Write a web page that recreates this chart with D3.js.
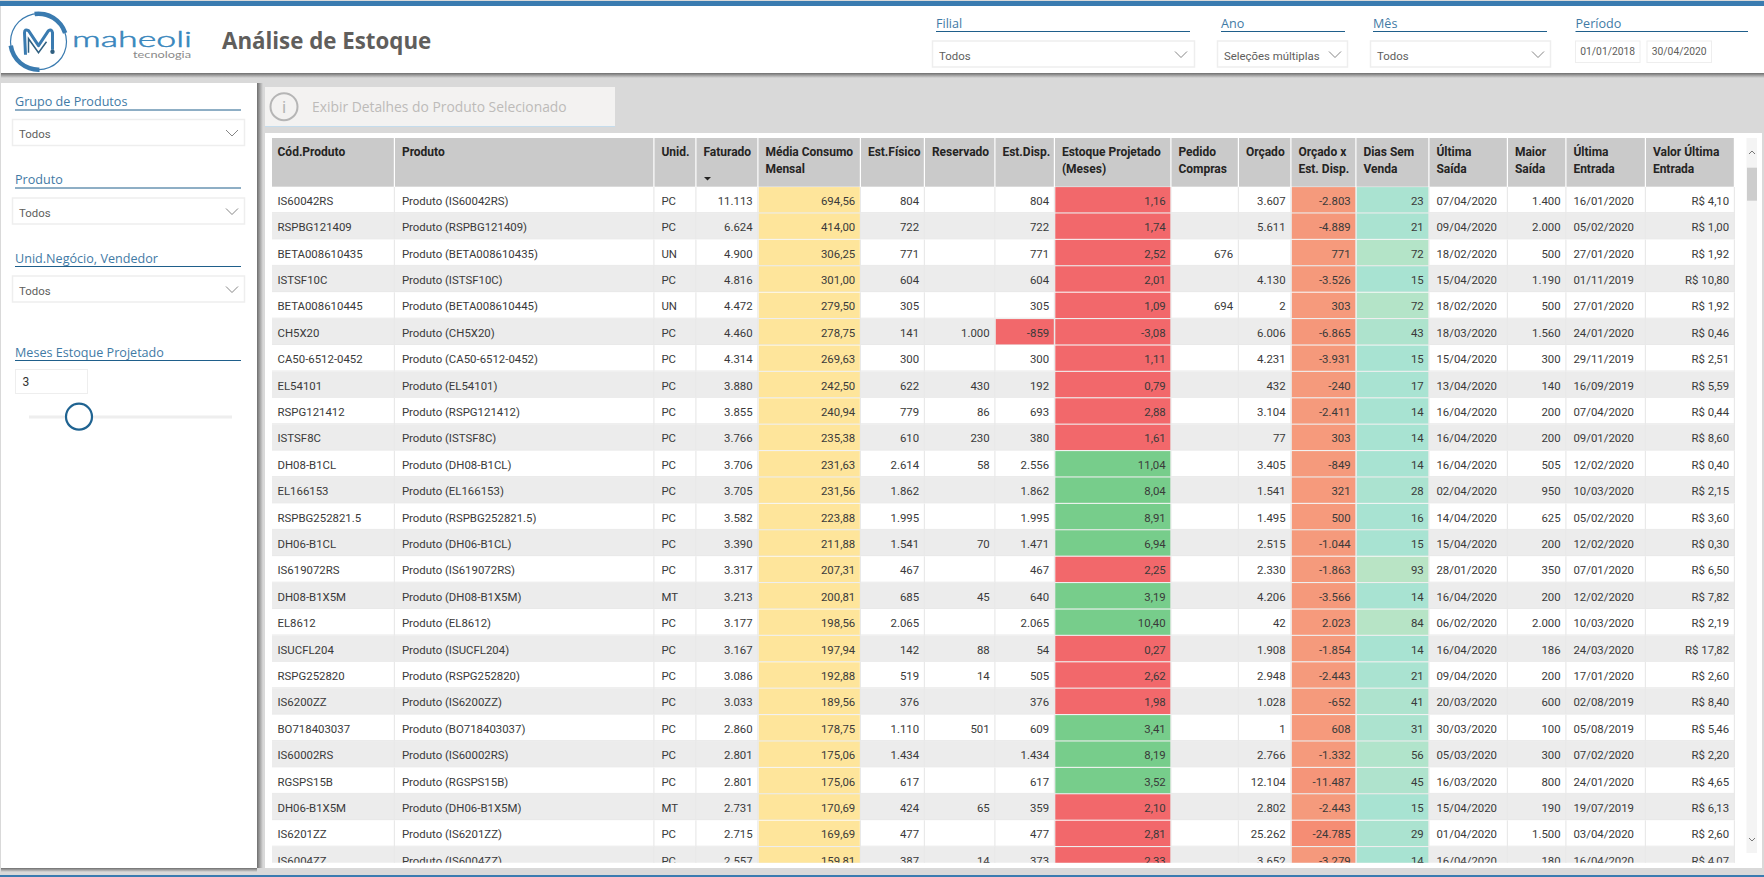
<!DOCTYPE html>
<html lang="pt-BR">
<head>
<meta charset="utf-8">
<title>Análise de Estoque</title>
<script src="https://cdn.jsdelivr.net/npm/d3@7"></script>
<style>
  html, body { margin: 0; padding: 0; background: #d9d9d9; overflow: hidden; }
  svg { display: block; font-family: Roboto, "Open Sans", sans-serif; }
</style>
</head>
<body>
<div id="painel"></div>
<script>
// Valores da tabela, um array por coluna (null = celula vazia)
var codigos = ['IS60042RS', 'RSPBG121409', 'BETA008610435', 'ISTSF10C', 'BETA008610445', 'CH5X20', 'CA50-6512-0452', 'EL54101', 'RSPG121412', 'ISTSF8C', 'DH08-B1CL', 'EL166153', 'RSPBG252821.5', 'DH06-B1CL', 'IS619072RS', 'DH08-B1X5M', 'EL8612', 'ISUCFL204', 'RSPG252820', 'IS6200ZZ', 'BO718403037', 'IS60002RS', 'RGSPS15B', 'DH06-B1X5M', 'IS6201ZZ', 'IS6004ZZ'];
var unidades = ['PC', 'PC', 'UN', 'PC', 'UN', 'PC', 'PC', 'PC', 'PC', 'PC', 'PC', 'PC', 'PC', 'PC', 'PC', 'MT', 'PC', 'PC', 'PC', 'PC', 'PC', 'PC', 'PC', 'MT', 'PC', 'PC'];
var faturado = [11113, 6624, 4900, 4816, 4472, 4460, 4314, 3880, 3855, 3766, 3706, 3705, 3582, 3390, 3317, 3213, 3177, 3167, 3086, 3033, 2860, 2801, 2801, 2731, 2715, 2557];
var mediaConsumo = [694.56, 414.00, 306.25, 301.00, 279.50, 278.75, 269.63, 242.50, 240.94, 235.38, 231.63, 231.56, 223.88, 211.88, 207.31, 200.81, 198.56, 197.94, 192.88, 189.56, 178.75, 175.06, 175.06, 170.69, 169.69, 159.81];
var estFisico = [804, 722, 771, 604, 305, 141, 300, 622, 779, 610, 2614, 1862, 1995, 1541, 467, 685, 2065, 142, 519, 376, 1110, 1434, 617, 424, 477, 387];
var reservado = [null, null, null, null, null, 1000, null, 430, 86, 230, 58, null, null, 70, null, 45, null, 88, 14, null, 501, null, null, 65, null, 14];
var estDisp = [804, 722, 771, 604, 305, -859, 300, 192, 693, 380, 2556, 1862, 1995, 1471, 467, 640, 2065, 54, 505, 376, 609, 1434, 617, 359, 477, 373];
var estoqueProjetado = [1.16, 1.74, 2.52, 2.01, 1.09, -3.08, 1.11, 0.79, 2.88, 1.61, 11.04, 8.04, 8.91, 6.94, 2.25, 3.19, 10.40, 0.27, 2.62, 1.98, 3.41, 8.19, 3.52, 2.10, 2.81, 2.33];
var pedidoCompras = [null, null, 676, null, 694, null, null, null, null, null, null, null, null, null, null, null, null, null, null, null, null, null, null, null, null, null];
var orcado = [3607, 5611, null, 4130, 2, 6006, 4231, 432, 3104, 77, 3405, 1541, 1495, 2515, 2330, 4206, 42, 1908, 2948, 1028, 1, 2766, 12104, 2802, 25262, 3652];
var orcadoDisp = [-2803, -4889, 771, -3526, 303, -6865, -3931, -240, -2411, 303, -849, 321, 500, -1044, -1863, -3566, 2023, -1854, -2443, -652, 608, -1332, -11487, -2443, -24785, -3279];
var diasSemVenda = [23, 21, 72, 15, 72, 43, 15, 17, 14, 14, 14, 28, 16, 15, 93, 14, 84, 14, 21, 41, 31, 56, 45, 15, 29, 14];
var ultimaSaida = ['07/04/2020', '09/04/2020', '18/02/2020', '15/04/2020', '18/02/2020', '18/03/2020', '15/04/2020', '13/04/2020', '16/04/2020', '16/04/2020', '16/04/2020', '02/04/2020', '14/04/2020', '15/04/2020', '28/01/2020', '16/04/2020', '06/02/2020', '16/04/2020', '09/04/2020', '20/03/2020', '30/03/2020', '05/03/2020', '16/03/2020', '15/04/2020', '01/04/2020', '16/04/2020'];
var maiorSaida = [1400, 2000, 500, 1190, 500, 1560, 300, 140, 200, 200, 505, 950, 625, 200, 350, 200, 2000, 186, 200, 600, 100, 300, 800, 190, 1500, 180];
var ultimaEntrada = ['16/01/2020', '05/02/2020', '27/01/2020', '01/11/2019', '27/01/2020', '24/01/2020', '29/11/2019', '16/09/2019', '07/04/2020', '09/01/2020', '12/02/2020', '10/03/2020', '05/02/2020', '12/02/2020', '07/01/2020', '12/02/2020', '10/03/2020', '24/03/2020', '17/01/2020', '02/08/2019', '05/08/2019', '07/02/2020', '24/01/2020', '19/07/2019', '03/04/2020', '16/04/2020'];
var valorEntrada = [4.10, 1.00, 1.92, 10.80, 1.92, 0.46, 2.51, 5.59, 0.44, 8.60, 0.40, 2.15, 3.60, 0.30, 6.50, 7.82, 2.19, 17.82, 2.60, 8.40, 5.46, 2.20, 4.65, 6.13, 2.60, 4.07];

// Textos dos cabecalhos e filtros
var titulos = [['Cód.Produto'], ['Produto'], ['Unid.'], ['Faturado'], ['Média Consumo', 'Mensal'], ['Est.Físico'], ['Reservado'], ['Est.Disp.'], ['Estoque Projetado', '(Meses)'], ['Pedido', 'Compras'], ['Orçado'], ['Orçado x', 'Est. Disp.'], ['Dias Sem', 'Venda'], ['Última', 'Saída'], ['Maior', 'Saída'], ['Última', 'Entrada'], ['Valor Última', 'Entrada']];
var datasPeriodo = ['01/01/2018', '30/04/2020'];

// Setup SVG area
var fullWidth = 1764;
var fullHeight = 877;
var svg = d3.select('#painel').append('svg')
    .attr('width', fullWidth)
    .attr('height', fullHeight);

var azul = '#3a7bb0';
var azulLinha = '#1f5f8b';
var azulTexto = '#3f7aa5';
var cinzaTexto = '#605e5c';

// Gradientes das sombras
var defs = svg.append('defs');
function gradiente(id, x2, y2) {
    var g = defs.append('linearGradient').attr('id', id)
        .attr('x1', 0).attr('y1', 0).attr('x2', x2).attr('y2', y2);
    g.append('stop').attr('offset', '0%').attr('stop-color', '#6e6e6e');
    g.append('stop').attr('offset', '100%').attr('stop-color', '#d9d9d9');
}
gradiente('sombraV', 0, 1);
gradiente('sombraH', 1, 0);
defs.append('clipPath').attr('id', 'corpo').append('rect')
    .attr('x', 265).attr('y', 187).attr('width', 1480).attr('height', 675.7);

/******************************************************************************
 * Fundo, cabecalho e paineis
 *****************************************************************************/
function caixa(x, y, w, h, fill, stroke) {
    return svg.append('rect').attr('x', x).attr('y', y).attr('width', w).attr('height', h)
        .attr('fill', fill).attr('stroke', stroke || 'none');
}
function texto(x, y, txt, size, color, weight) {
    return svg.append('text').attr('x', x).attr('y', y).attr('dy', '0.35em')
        .attr('font-size', size).attr('fill', color).attr('font-weight', weight || 400)
        .text(txt);
}

caixa(0, 0, fullWidth, fullHeight, '#d9d9d9');
caixa(1, 6, 1763, 67, '#ffffff');
caixa(1, 73, 1763, 5, 'url(#sombraV)');
caixa(0, 1, fullWidth, 5, azul);
caixa(0, 875, fullWidth, 2, azul);

caixa(1, 83, 256, 785, '#ffffff');
caixa(257, 83, 6, 785, 'url(#sombraH)');
caixa(1, 868, 256, 4, 'url(#sombraV)');

caixa(265, 87, 350, 39, '#f3f2f1');
caixa(265, 126, 350, 1, '#c5dcec');
caixa(265, 133, 1497, 735, '#ffffff');

// Logo
var logo = svg.append('g').attr('transform', 'translate(38.5,41.7)');
var arco = d3.arc();
var logoArcos = [
    { r: 28, w: 1.2, a0: 0, a1: 360 },
    { r: 28, w: 4.5, a0: -8, a1: 72 },
    { r: 28, w: 4.5, a0: 178, a1: 262 }
];
logoArcos.forEach(function (d) {
    logo.append('path')
        .attr('d', arco({
            innerRadius: d.r - d.w / 2, outerRadius: d.r + d.w / 2,
            startAngle: d.a0 * Math.PI / 180, endAngle: d.a1 * Math.PI / 180
        }))
        .attr('fill', azul);
});
logo.append('path')
    .attr('d', 'M-13,13 L-14,-9 Q-14,-13 -10,-11 L0,4 L10,-11 Q13,-13 14,-9 L14,8')
    .attr('fill', 'none').attr('stroke', azul).attr('stroke-width', 3).attr('stroke-linejoin', 'round');
logo.append('path')
    .attr('d', 'M-10,11 L-10,-3 L0,11 L8,0')
    .attr('fill', 'none').attr('stroke', '#2f5f80').attr('stroke-width', 1.5);
logo.append('circle').attr('cx', 14).attr('cy', 10).attr('r', 2.2).attr('fill', '#2f5f80');

svg.append('text').attr('x', 72).attr('y', 46.7)
    .attr('font-family', 'Lato').attr('font-size', 22).attr('font-weight', 300).attr('fill', '#3a87bd')
    .attr('textLength', 120).attr('lengthAdjust', 'spacingAndGlyphs').attr('stroke', '#3a87bd').attr('stroke-width', 0.5)
    .text('maheoli');
svg.append('text').attr('x', 133).attr('y', 58)
    .attr('font-family', 'Lato').attr('font-size', 8.5).attr('fill', '#8a8a8a')
    .attr('textLength', 58).attr('lengthAdjust', 'spacingAndGlyphs')
    .text('tecnologia');

texto(222, 41, 'Análise de Estoque', 22.3, '#605e5c', 700).attr('font-family', '"Open Sans"');

/******************************************************************************
 * Filtros
 *****************************************************************************/
function seletaCaixa(x, y, w, txt, chevronX) {
    caixa(x + 0.5, y + 0.5, w, 26, '#ffffff', '#eeeeee').attr('stroke-width', 1.5);
    texto(x + 7, y + 15.5, txt, 11.4, cinzaTexto);
    svg.append('path')
        .attr('d', 'M' + (chevronX - 6) + ',' + (y + 11) + ' l6,6 l6,-6')
        .attr('fill', 'none').attr('stroke', '#777').attr('stroke-width', 0.9);
}
function rotulo(x, y, x2, txt) {
    texto(x, y, txt, 12.6, azulTexto).attr('font-family', '"Open Sans"');
    svg.append('line').attr('x1', x).attr('x2', x2).attr('y1', y + 8).attr('y2', y + 8)
        .attr('stroke', azulLinha).attr('stroke-width', 1);
}

rotulo(936, 23.5, 1190, 'Filial');
seletaCaixa(932, 40.5, 262, 'Todos', 1181);
rotulo(1221, 23.5, 1345, 'Ano');
seletaCaixa(1217, 40.5, 130, 'Seleções múltiplas', 1335);
rotulo(1373, 23.5, 1547, 'Mês');
seletaCaixa(1370, 40.5, 180, 'Todos', 1538);
rotulo(1575.5, 23.5, 1748, 'Período');
datasPeriodo.forEach(function (d, i) {
    var bx = i == 0 ? 1575.5 : 1647;
    caixa(bx, 41, 64.5, 21.5, '#ffffff', '#eeeeee');
    texto(bx + 32.2, 51.5, d, 10.3, cinzaTexto).attr('text-anchor', 'middle');
});

rotulo(15, 102, 241, 'Grupo de Produtos');
seletaCaixa(12, 119, 232, 'Todos', 232);
rotulo(15, 180, 241, 'Produto');
seletaCaixa(12, 197.5, 232, 'Todos', 232);
rotulo(15, 258.5, 241, 'Unid.Negócio, Vendedor');
seletaCaixa(12, 275.5, 232, 'Todos', 232);
rotulo(15, 352.5, 241, 'Meses Estoque Projetado');

// Slider
caixa(15.5, 369.5, 72, 24, '#ffffff', '#eeeeee');
texto(22.5, 381.5, '3', 12, '#333');
caixa(29, 415.5, 203, 3, '#eeeeee');
svg.append('circle').attr('cx', 79).attr('cy', 416.7).attr('r', 13)
    .attr('fill', '#ffffff').attr('stroke', '#1f6391').attr('stroke-width', 2.2);

// Botao de detalhes
svg.append('circle').attr('cx', 284).attr('cy', 106.7).attr('r', 13.5)
    .attr('fill', 'none').attr('stroke', '#b5b5b5').attr('stroke-width', 2);
texto(284, 107, 'i', 17, '#b5b5b5').attr('text-anchor', 'middle');
texto(312, 107, 'Exibir Detalhes do Produto Selecionado', 13.85, '#bdbbb9').attr('font-family', '"Open Sans"');

/******************************************************************************
 * Tabela
 *****************************************************************************/
var formatoBr = d3.formatLocale({ decimal: ',', thousands: '.', grouping: [3], currency: ['R$ ', ''], minus: '-' });
var inteiro = formatoBr.format(',d');
var decimal = formatoBr.format(',.2f');
var moeda = formatoBr.format('$,.2f');

var corMedia = function () { return '#fee59b'; };
var corEstoque = d3.scaleThreshold().domain([3]).range(['#f2686b', '#77cd8b']);
var corDisp = d3.scaleThreshold().domain([0]).range(['#f2686b', 'none']);
var corOrcado = d3.scaleLinear().domain([-24785, -2000, 2023]).range(['#f58d74', '#f59a7c', '#f69a7c']);
var corDias = d3.scaleLinear().domain([14, 93]).range(['#a8e3d2', '#b9e4c5']);

// Colunas: array de valores, alinhamento, formato e cor condicional
var colunas = [
    { valores: codigos },
    { valores: codigos, formato: function (d) { return 'Produto (' + d + ')'; } },
    { valores: unidades },
    { valores: faturado, direita: true, formato: inteiro },
    { valores: mediaConsumo, direita: true, formato: decimal, cor: corMedia },
    { valores: estFisico, direita: true, formato: inteiro },
    { valores: reservado, direita: true, formato: inteiro },
    { valores: estDisp, direita: true, formato: inteiro, cor: corDisp },
    { valores: estoqueProjetado, direita: true, formato: decimal, cor: corEstoque },
    { valores: pedidoCompras, direita: true, formato: inteiro },
    { valores: orcado, direita: true, formato: inteiro },
    { valores: orcadoDisp, direita: true, formato: inteiro, cor: corOrcado },
    { valores: diasSemVenda, direita: true, formato: inteiro, cor: corDias },
    { valores: ultimaSaida },
    { valores: maiorSaida, direita: true, formato: inteiro },
    { valores: ultimaEntrada },
    { valores: valorEntrada, direita: true, formato: moeda }
];

// Bordas das colunas em pixels
var bordas = [272, 395, 654.5, 696.5, 758.5, 861, 925, 995.5, 1055, 1171.5, 1239, 1291.5, 1356.5, 1429.5, 1508, 1566.5, 1646, 1735];
var xBorda = d3.scaleOrdinal().domain(d3.range(bordas.length)).range(bordas);
var yLinha = d3.scaleLinear().domain([0, 1]).range([186.7, 213.1]);
var larguraCol = function (i) { return xBorda(i + 1) - xBorda(i); };
var recuo = function (i) { return i == 0 ? 5.5 : 6.9; };
var altoLinha = yLinha(1) - yLinha(0);
var yCabecalho = 138;

// Cabecalho da tabela
var cab = svg.append('g').attr('font-weight', 700).attr('font-size', 12).attr('fill', '#252423');
titulos.forEach(function (linhas, i) {
    cab.append('rect').attr('x', xBorda(i)).attr('y', yCabecalho)
        .attr('width', larguraCol(i) - 1.2).attr('height', yLinha(0) - yCabecalho)
        .attr('fill', '#cacaca');
    linhas.forEach(function (t, j) {
        cab.append('text').attr('x', xBorda(i) + recuo(i)).attr('y', 151.7 + j * 17).attr('dy', '0.35em').text(t);
    });
});
cab.append('path').attr('d', 'M704,177 h7 l-3.5,3.5 z').attr('fill', '#252423');

// Linhas do corpo
var corpo = svg.append('g').attr('clip-path', 'url(#corpo)');
var linhas = corpo.selectAll('g.linha').data(codigos).enter().append('g')
    .classed('linha', true)
    .attr('transform', function (d, i) { return 'translate(0,' + yLinha(i) + ')'; });

linhas.append('rect')
    .attr('x', bordas[0])
    .attr('width', bordas[bordas.length - 1] - bordas[0])
    .attr('height', altoLinha)
    .attr('fill', function (d, i) { return i % 2 == 0 ? '#ffffff' : '#ececec'; });
linhas.append('rect')
    .attr('x', bordas[0])
    .attr('y', altoLinha - 1)
    .attr('width', bordas[bordas.length - 1] - bordas[0])
    .attr('height', 1)
    .attr('fill', '#e9e9e9');

colunas.forEach(function (col, c) {
    // Celula vazia fica sem dado (null apaga o __data__)
    var celulas = linhas.append('g').datum(function (d, i) { return col.valores[i]; });

    // Separador vertical
    celulas.append('rect')
        .attr('x', xBorda(c + 1) - 1.2)
        .attr('width', 1.2)
        .attr('height', altoLinha)
        .attr('fill', '#e9e9e9');

    // Cor condicional
    if (col.cor) {
        celulas.append('rect')
            .attr('x', xBorda(c) + 0.3)
            .attr('y', 0.4)
            .attr('width', larguraCol(c) - 1.5)
            .attr('height', altoLinha - 1.1)
            .attr('fill', function (d) { return col.cor(d); });
    }

    celulas.filter(function (d) { return d != null; }).append('text')
        .attr('x', col.direita ? xBorda(c + 1) - 5.8 : xBorda(c) + recuo(c))
        .attr('y', altoLinha / 2 + 1)
        .attr('dy', '0.35em')
        .attr('text-anchor', col.direita ? 'end' : 'start')
        .attr('font-size', 11.4)
        .attr('fill', '#3a3a3a')
        .text(function (d) { return col.formato ? col.formato(d) : d; });
});

// Barra de rolagem
caixa(1746.5, 138, 10.5, 715, '#f4f4f4');
caixa(1747, 167.7, 10, 33, '#cdcdcd');
svg.append('path').attr('d', 'M1749,154 l3,-3 l3,3').attr('fill', 'none').attr('stroke', '#777').attr('stroke-width', 1);
svg.append('path').attr('d', 'M1749,838 l3,3 l3,-3').attr('fill', 'none').attr('stroke', '#777').attr('stroke-width', 1);
</script>
</body>
</html>
